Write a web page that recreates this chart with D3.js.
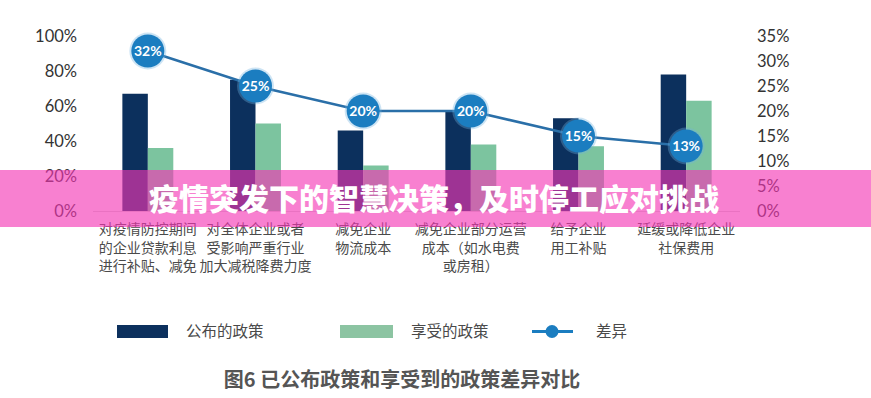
<!DOCTYPE html>
<html>
<head>
<meta charset="utf-8">
<script src="https://cdn.jsdelivr.net/npm/d3@7"></script>
<style>
  body { margin: 0; background: #fff; }
  svg { display: block; }
</style>
</head>
<body>
<div id="chart"></div>
<script>
// Data
var categories = [
  ['对疫情防控期间', '的企业贷款利息', '进行补贴、减免'],
  ['对全体企业或者', '受影响严重行业', '加大减税降费力度'],
  ['减免企业', '物流成本'],
  ['减免企业部分运营', '成本（如水电费', '或房租）'],
  ['给予企业', '用工补贴'],
  ['延缓或降低企业', '社保费用']
];
var published = [67, 75, 46, 57, 53, 78];
var enjoyed = [36, 50, 26, 38, 37, 63];
var gap = [32, 25, 20, 20, 15, 13];
var leftTicks = [0, 20, 40, 60, 80, 100];
var rightTicks = [0, 5, 10, 15, 20, 25, 30, 35];

var width = 871,
  height = 398;

var svg = d3.select('#chart')
  .append('svg')
  .attr('width', width)
  .attr('height', height);

var navy = '#0c305d',
  green = '#7cc49f',
  blue = '#1b7dc0',
  lineBlue = '#2a6fa8';

// Scales

var xScale = d3.scaleBand()
  .domain(d3.range(categories.length))
  .range([94, 740])
  .paddingInner(0.527)
  .paddingOuter(0.2635);

var xSub = d3.scaleBand()
  .domain(['pub', 'enj'])
  .range([0, xScale.bandwidth()]);

var yLeft = d3.scaleLinear().domain([0, 100]).range([211, 36]);
var yRight = d3.scaleLinear().domain([0, 35]).range([211, 36]);

// Axes (text only)

svg.append('g')
  .attr('transform', 'translate(77,0)')
  .call(d3.axisLeft(yLeft).tickValues(leftTicks).tickSize(0).tickPadding(0)
    .tickFormat(function(d) { return d + '%'; }));

svg.append('g')
  .attr('transform', 'translate(757,0)')
  .call(d3.axisRight(yRight).tickValues(rightTicks).tickSize(0).tickPadding(0)
    .tickFormat(function(d) { return d + '%'; }));

svg.selectAll('.domain').remove();
svg.selectAll('.tick text')
  .attr('font-family', 'Lato, "Open Sans", sans-serif')
  .attr('font-size', 16.5)
  .attr('fill', '#333');

// Baseline

svg.append('line')
  .attr('x1', 93).attr('x2', 740)
  .attr('y1', yLeft(0) + 0.5).attr('y2', yLeft(0) + 0.5)
  .attr('stroke', '#d8d8d8')
  .attr('stroke-width', 1);

// Bars

var groups = svg.selectAll('.grp')
  .data(categories)
  .enter()
  .append('g')
  .attr('class', 'grp')
  .attr('transform', function(d, i) { return 'translate(' + xScale(i) + ',0)'; });

groups.append('rect')
  .attr('x', xSub('pub'))
  .attr('width', xSub.bandwidth())
  .attr('y', function(d, i) { return yLeft(published[i]); })
  .attr('height', function(d, i) { return yLeft(0) - yLeft(published[i]); })
  .attr('fill', navy);

groups.append('rect')
  .attr('x', xSub('enj'))
  .attr('width', xSub.bandwidth())
  .attr('y', function(d, i) { return yLeft(enjoyed[i]); })
  .attr('height', function(d, i) { return yLeft(0) - yLeft(enjoyed[i]); })
  .attr('fill', green);

// Category labels

groups.append('text')
  .attr('text-anchor', 'middle')
  .attr('font-family', '"Noto Sans CJK SC", sans-serif')
  .attr('font-size', 14)
  .attr('fill', '#4a4a4a')
  .selectAll('tspan')
  .data(function(d) { return d; })
  .enter()
  .append('tspan')
  .attr('x', xScale.bandwidth() / 2)
  .attr('y', function(d, j) { return 234 + j * 18.5; })
  .text(function(d) { return d; });

// Gap line

var cx = function(d, i) { return xScale(i) + xScale.bandwidth() / 2; };

var line = d3.line()
  .x(function(d, i) { return cx(d, i); })
  .y(function(d) { return yRight(d); });

svg.append('path')
  .datum(gap)
  .attr('d', line)
  .attr('fill', 'none')
  .attr('stroke', lineBlue)
  .attr('stroke-width', 2.5);

var dots = svg.selectAll('.dot')
  .data(gap)
  .enter()
  .append('g')
  .attr('class', 'dot')
  .attr('transform', function(d, i) { return 'translate(' + cx(d, i) + ',' + yRight(d) + ')'; });

dots.append('circle')
  .attr('r', 18.5)
  .attr('fill', '#6fb3e0')
  .attr('opacity', 0.35);

dots.append('circle')
  .attr('r', 16.5)
  .attr('fill', blue);

dots.append('text')
  .attr('text-anchor', 'middle')
  .attr('dy', '0.36em')
  .attr('font-family', 'Lato, "Open Sans", sans-serif')
  .attr('font-weight', 'bold')
  .attr('font-size', 14)
  .attr('fill', '#fff')
  .text(function(d) { return d + '%'; });

// Legend

var legend = svg.append('g')
  .attr('font-family', '"Noto Sans CJK SC", sans-serif')
  .attr('font-size', 15.5)
  .attr('fill', '#4a4a4a');

legend.append('rect')
  .attr('x', 117).attr('y', 325).attr('width', 51).attr('height', 13)
  .attr('fill', navy);
legend.append('text')
  .attr('x', 186).attr('y', 337).text('公布的政策');

legend.append('rect')
  .attr('x', 340).attr('y', 325).attr('width', 53).attr('height', 13)
  .attr('fill', '#8cc4a2');
legend.append('text')
  .attr('x', 411).attr('y', 337).text('享受的政策');

legend.append('line')
  .attr('x1', 532).attr('x2', 573).attr('y1', 331.5).attr('y2', 331.5)
  .attr('stroke', blue).attr('stroke-width', 3);
legend.append('circle')
  .attr('cx', 552).attr('cy', 331.5).attr('r', 6.5)
  .attr('fill', blue);
legend.append('text')
  .attr('x', 596).attr('y', 337).text('差异');

// Figure caption

svg.append('text')
  .attr('x', 402)
  .attr('y', 387)
  .attr('text-anchor', 'middle')
  .attr('font-family', '"Noto Sans CJK SC", sans-serif')
  .attr('font-weight', 'bold')
  .attr('font-size', 20)
  .attr('fill', '#555')
  .text('图6 已公布政策和享受到的政策差异对比');

// Pink overlay banner

svg.append('rect')
  .attr('x', 0).attr('y', 170)
  .attr('width', width).attr('height', 57)
  .attr('fill', 'rgb(244,54,181)')
  .attr('opacity', 0.63);

svg.append('text')
  .attr('x', 434)
  .attr('y', 210)
  .attr('text-anchor', 'middle')
  .attr('font-family', '"Noto Sans CJK SC", sans-serif')
  .attr('font-weight', 900)
  .attr('font-size', 30)
  .attr('fill', '#fff')
  .text('疫情突发下的智慧决策，及时停工应对挑战');
</script>
</body>
</html>
